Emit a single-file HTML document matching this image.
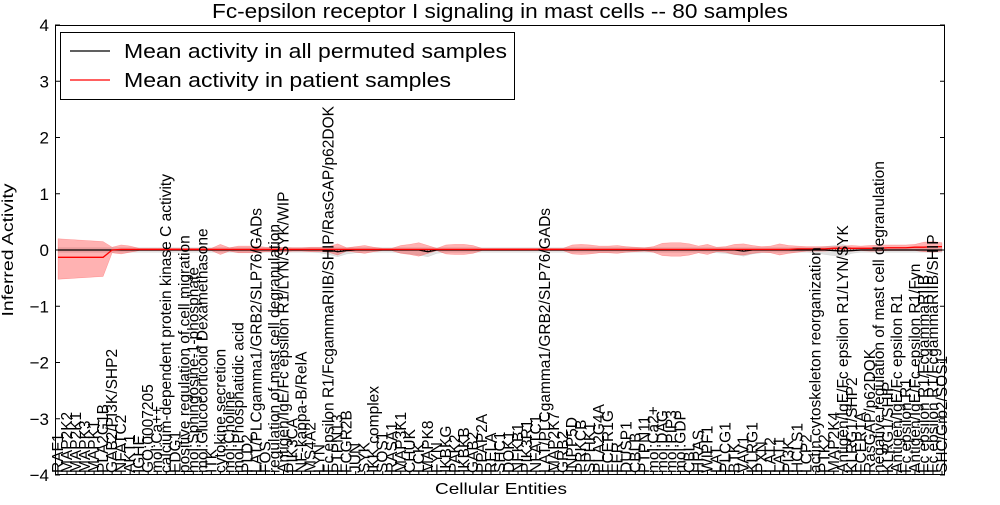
<!DOCTYPE html>
<html><head><meta charset="utf-8"><style>
body{margin:0;background:#fff;overflow:hidden;}
svg text{font-family:"Liberation Sans",sans-serif;}
</style></head><body>
<svg id="chart" width="1000" height="500" xmlns="http://www.w3.org/2000/svg">
<rect x="0" y="0" width="1000" height="500" fill="#fff"/>
<text x="500" y="18" font-size="20" text-anchor="middle" textLength="576" lengthAdjust="spacingAndGlyphs">Fc-epsilon receptor I signaling in mast cells -- 80 samples</text>
<g id="plot"></g>
<text x="501" y="494" font-size="16" text-anchor="middle" textLength="132" lengthAdjust="spacingAndGlyphs">Cellular Entities</text>
<text x="0" y="0" font-size="16" text-anchor="middle" textLength="133" lengthAdjust="spacingAndGlyphs" transform="translate(13,250) rotate(-90)">Inferred Activity</text>
<g>
<rect x="60.5" y="32.5" width="454" height="67" fill="#fff" stroke="#000"/>
<line x1="70" y1="51" x2="110" y2="51" stroke="#000" stroke-width="1.2"/>
<text x="124" y="58" font-size="20" textLength="383" lengthAdjust="spacingAndGlyphs">Mean activity in all permuted samples</text>
<line x1="70" y1="80" x2="110" y2="80" stroke="#f00" stroke-width="1.2"/>
<text x="124" y="87" font-size="20" textLength="327" lengthAdjust="spacingAndGlyphs">Mean activity in patient samples</text>
</g>
</svg>
<script>
const categories=["RAF1","MAP2K2","MAP2K1","MAPK3","MAPK1","PLA2G1B","GAB2/PI3K/SHP2","NFATC2","AKT1","IGHE","GO:0007205","mol:Ca++","calcium-dependent protein kinase C activity","EDG1","positive regulation of cell migration","mol:Sphingosine-1-phosphate","mol:Glucocorticoid Dexamethasone","ITK","cytokine secretion","mol:Choline","mol:Phosphatidic acid","PLD2","LAT/PLCgamma1/GRB2/SLP76/GADs","FOS","regulation of mast cell degranulation","Antigen/IgE/Fc epsilon R1/LYN/SYK/WIP","PIK3CA","NF-kappa-B/RelA","MS4A2","LYN","Fc epsilon R1/FcgammaRIIB/SHIP/RasGAP/p62DOK","PTPN13","FCGR2B","JUN","SYK","IKK complex","SOS1","RASA1","MAP3K1","CHUK","LCK","MAPK8","FYN","IKBKG","PAK2","IKBKB","GAB2","PPAP2A","RELA","SHC1","DOK1","NFKB1","PIK3R1","NFATC1","LAT/PLCgamma1/GRB2/SLP76/GADs","MAP2K7","GRB2","INPP5D","PRKCB","SPHK1","PLA2G4A","FCER1G","FER","DUSP1","CBLB","PTPN11","mol:Ca2+","mol:DAG","mol:PIP3","mol:GDP","CBL","HRAS","WIPF1","LAT","PLCG1","BTK","VAV1","KLRG1","PXN","LAT2","LAT1","PI3K","HCLS1","LCP2","actin cytoskeleton reorganization","PTK2","MAP2K4","Antigen/IgE/Fc epsilon R1/LYN/SYK","KLRG1/SHP2","FCER1A","RasGAP/p62DOK","negative regulation of mast cell degranulation","KLRG1/SHIP","Antigen/IgE/Fc epsilon R1","Fc epsilon R1","Antigen/IgE/Fc epsilon R1/Fyn","Fc epsilon R1/FcgammaRIIB","Fc epsilon R1/FcgammaRIIB/SHIP","SHC/Grb2/SOS1"];
const redMean=[-0.13,-0.13,-0.13,-0.13,-0.13,-0.13,0.0,0.01,0.01,0.01,0.01,0.01,0.01,0.01,0.01,0.01,0.01,0.01,0.01,0.01,0.01,0.01,0.01,0.01,0.01,0.01,0.01,0.01,0.01,0.01,0.01,0.01,0.01,0.01,0.01,0.01,0.01,0.01,0.01,0.01,0.01,0.01,0.01,0.01,0.01,0.01,0.01,0.01,0.01,0.01,0.01,0.01,0.01,0.01,0.01,0.01,0.01,0.01,0.01,0.01,0.01,0.01,0.01,0.01,0.01,0.01,0.01,0.01,0.01,0.01,0.01,0.01,0.01,0.01,0.01,0.01,0.01,0.01,0.01,0.01,0.01,0.01,0.02,0.02,0.02,0.02,0.03,0.03,0.03,0.03,0.03,0.03,0.04,0.04,0.04,0.05,0.05,0.06,0.06];
const redHigh=[0.2,0.19,0.18,0.17,0.16,0.15,0.05,0.09,0.07,0.03,0.03,0.03,0.03,0.03,0.03,0.03,0.03,0.03,0.1,0.04,0.07,0.07,0.07,0.05,0.05,0.05,0.04,0.04,0.05,0.05,0.06,0.11,0.04,0.06,0.08,0.05,0.03,0.03,0.08,0.1,0.13,0.08,0.03,0.09,0.1,0.1,0.08,0.03,0.03,0.03,0.03,0.03,0.03,0.03,0.03,0.03,0.03,0.09,0.1,0.09,0.07,0.07,0.08,0.06,0.05,0.04,0.06,0.12,0.13,0.13,0.11,0.07,0.1,0.05,0.06,0.1,0.11,0.08,0.06,0.07,0.11,0.08,0.07,0.06,0.06,0.06,0.06,0.07,0.08,0.07,0.08,0.09,0.09,0.09,0.09,0.1,0.14,0.15,0.13];
const redLow=[-0.52,-0.51,-0.5,-0.49,-0.48,-0.47,-0.05,-0.07,-0.04,-0.01,-0.01,-0.01,-0.01,-0.01,-0.01,-0.01,-0.01,-0.01,-0.08,-0.02,-0.05,-0.05,-0.05,-0.03,-0.03,-0.03,-0.02,-0.02,-0.03,-0.03,-0.04,-0.09,-0.02,-0.04,-0.06,-0.03,-0.01,-0.01,-0.06,-0.08,-0.11,-0.06,-0.01,-0.07,-0.08,-0.08,-0.06,-0.01,-0.01,-0.01,-0.01,-0.01,-0.01,-0.01,-0.01,-0.01,-0.01,-0.07,-0.08,-0.07,-0.05,-0.05,-0.06,-0.04,-0.03,-0.02,-0.04,-0.1,-0.11,-0.11,-0.09,-0.05,-0.08,-0.03,-0.04,-0.08,-0.09,-0.06,-0.04,-0.05,-0.09,-0.06,-0.04,-0.02,-0.02,-0.02,-0.01,-0.01,-0.02,-0.01,-0.02,-0.02,-0.01,-0.01,-0.01,-0.01,-0.03,-0.04,-0.02];
const greyMean=[0,0,0,0,0,0,0,0,0,0,0,0,0,0,0,0,0,0,0,0,0,0,0,0,0,0,0,0,0,0,0,-0.03,-0.01,0,0,0,0,0,0,0,0,-0.03,0,0,0,0,0,0,0,0,0,0,0,0,0,0,0,0,0,0,0,0,0,0,0,0,0,0,0,0,0,0,0,0,0,0,-0.02,0,0,0,0,0,0,0,0,0,-0.01,-0.02,-0.01,0,0,0,0,0,0,0,0,0,0];
const greyHigh=[0.04,0.04,0.04,0.04,0.04,0.04,0.04,0.04,0.04,0.04,0.04,0.04,0.04,0.04,0.04,0.04,0.04,0.04,0.04,0.04,0.04,0.04,0.04,0.04,0.04,0.04,0.04,0.04,0.04,0.04,0.05,0.04,0.04,0.04,0.04,0.04,0.04,0.04,0.04,0.04,0.04,0.04,0.04,0.04,0.04,0.04,0.04,0.04,0.04,0.04,0.04,0.04,0.04,0.04,0.04,0.04,0.04,0.04,0.04,0.04,0.04,0.04,0.04,0.04,0.04,0.04,0.04,0.04,0.04,0.04,0.04,0.04,0.04,0.04,0.04,0.04,0.04,0.04,0.04,0.04,0.04,0.04,0.04,0.04,0.04,0.06,0.08,0.1,0.04,0.04,0.04,0.04,0.04,0.04,0.04,0.04,0.04,0.04,0.04];
const greyLow=[-0.04,-0.04,-0.04,-0.04,-0.04,-0.04,-0.04,-0.04,-0.04,-0.04,-0.04,-0.04,-0.04,-0.04,-0.04,-0.04,-0.04,-0.04,-0.04,-0.04,-0.04,-0.04,-0.04,-0.04,-0.04,-0.04,-0.04,-0.04,-0.04,-0.05,-0.08,-0.12,-0.07,-0.05,-0.04,-0.04,-0.04,-0.04,-0.05,-0.07,-0.09,-0.12,-0.06,-0.04,-0.04,-0.04,-0.04,-0.04,-0.04,-0.04,-0.04,-0.04,-0.04,-0.04,-0.04,-0.04,-0.04,-0.04,-0.04,-0.04,-0.04,-0.04,-0.04,-0.04,-0.04,-0.04,-0.04,-0.04,-0.04,-0.04,-0.04,-0.04,-0.04,-0.05,-0.06,-0.08,-0.11,-0.07,-0.05,-0.04,-0.04,-0.04,-0.04,-0.04,-0.05,-0.08,-0.1,-0.12,-0.06,-0.04,-0.04,-0.04,-0.04,-0.04,-0.04,-0.04,-0.04,-0.04,-0.04];
const yTicks=[-4,-3,-2,-1,0,1,2,3,4];

const NS="http://www.w3.org/2000/svg";
const L=55,R=945,T=25,B=475;
const n=categories.length;
const xS=i=>L+3+i*(R-L-6)/(n-1);
const yS=v=>250-v*(B-T)/8;
const g=document.getElementById('plot');
function mk(tag,attrs){const e=document.createElementNS(NS,tag);for(const k in attrs)e.setAttribute(k,attrs[k]);g.appendChild(e);return e;}
function band(lo,hi,fill,op,name){
  let d='M'+hi.map((v,i)=>xS(i)+','+yS(v)).join('L');
  d+='L'+lo.map((v,i)=>[xS(i),yS(v)]).reverse().map(p=>p[0]+','+p[1]).join('L')+'Z';
  const p=mk('path',{d:d,fill:fill,'fill-opacity':op,stroke:fill,'stroke-opacity':op,'stroke-width':'0.5'});
  
  
}
function line(vals,color,name){
  const p=mk('path',{d:'M'+vals.map((v,i)=>xS(i)+','+yS(v)).join('L'),fill:'none',stroke:color,'stroke-width':'1.3'});
  
  
}
band(greyLow,greyHigh,'#aaaaaa',0.35,'permuted-band');
band(redLow,redHigh,'#ff0000',0.3,'patient-band');
const zl=mk('line',{x1:L,x2:R,y1:yS(0),y2:yS(0),stroke:'#000','stroke-dasharray':'1,2','stroke-width':'1'});


line(greyMean,'#000','permuted-mean-line');
line(redMean,'#f00','patient-mean-line');
const fr=mk('rect',{x:L+0.5,y:T+0.5,width:R-L-1,height:B-T-1,fill:'none',stroke:'#000'});


yTicks.forEach(t=>{
  const y=yS(t);
  mk('line',{x1:L,x2:L+5,y1:y,y2:y,stroke:'#000'});
  mk('line',{x1:R-5,x2:R,y1:y,y2:y,stroke:'#000'});
  const tx=mk('text',{x:L-6,y:y+6,'font-size':'17','text-anchor':'end'});
  tx.textContent=String(t).replace('-','\u2212');
  
  
});
categories.forEach((c,i)=>{
  const x=xS(i);
  mk('line',{x1:x,x2:x,y1:B,y2:B-4,stroke:'#000'});
  const tx=mk('text',{x:0,y:0,'font-size':'15.5','text-anchor':'start',transform:`translate(${x+5},${B-2}) rotate(-90)`});
  tx.textContent=c;
  
  
});
</script>
</body></html>
